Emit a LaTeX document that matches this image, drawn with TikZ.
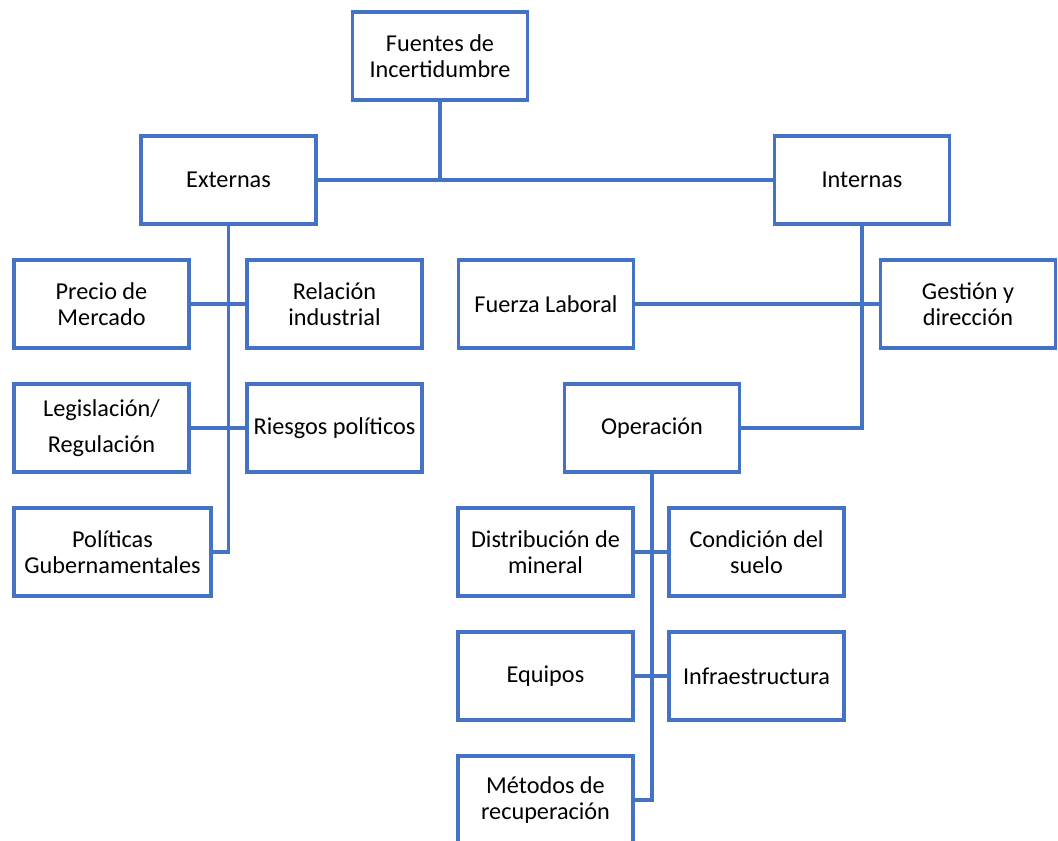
\documentclass[tikz,border=0pt]{standalone}
\usepackage{fontspec}
\setmainfont{Carlito}
\definecolor{azul}{HTML}{4472C4}

\begin{document}
\begin{tikzpicture}[x=0.02cm, y=-0.02cm,
    caja/.style={draw=azul, line width=1.8pt, fill=white, minimum width=3.5cm,
        minimum height=1.76cm, inner sep=2pt, align=center,
        font=\fontsize{13.8}{14.8}\selectfont},
    linea/.style={draw=azul, line width=1.8pt, line join=miter}]
        \clip (0,0) rectangle (1058,840);

        % Nivel superior
        \node[caja] (fuentes) at (440,56) {Fuentes de\\Incertidumbre};
        \node[caja] (externas) at (228.5,180) {Externas};
        \node[caja] (internas) at (862,180) {Internas};

        % Fuentes externas
        \node[caja] (precio) at (101.5,304) {Precio de\\Mercado};
        \node[caja] (relacion) at (334.5,304) {Relación\\industrial};
        \node[caja] (legislacion) at (101.5,428) {Legislación/\\[6pt]Regulación};
        \node[caja] (riesgos) at (334.5,428) {Riesgos políticos};
        \node[caja, minimum width=3.94cm] (politicas) at (112.5,552) {Políticas\\Gubernamentales};

        % Fuentes internas
        \node[caja] (fuerza) at (546,304) {Fuerza Laboral};
        \node[caja] (gestion) at (968,304) {Gestión y\\dirección};
        \node[caja] (operacion) at (652,428) {Operación};

        % Operación
        \node[caja] (distribucion) at (545.5,552) {Distribución de\\mineral};
        \node[caja] (condicion) at (756.5,552) {Condición del\\suelo};
        \node[caja] (equipos) at (545.5,676) {Equipos};
        \node[caja] (infra) at (756.5,676) {Infraestructura};
        \node[caja] (metodos) at (545.5,800) {Métodos de\\recuperación};

        % Conectores
        \draw[linea] (fuentes.south) -- (fuentes.south |- externas.east);
        \draw[linea] (externas.east) -- (internas.west);
        \draw[linea] (externas.south) |- (politicas.east);
        \draw[linea] (precio.east) -- (relacion.west);
        \draw[linea] (legislacion.east) -- (riesgos.west);
        \draw[linea] (internas.south) |- (operacion.east);
        \draw[linea] (fuerza.east) -- (gestion.west);
        \draw[linea] (operacion.south) |- (metodos.east);
        \draw[linea] (distribucion.east) -- (condicion.west);
        \draw[linea] (equipos.east) -- (infra.west);

    \end{tikzpicture}
\end{document}
